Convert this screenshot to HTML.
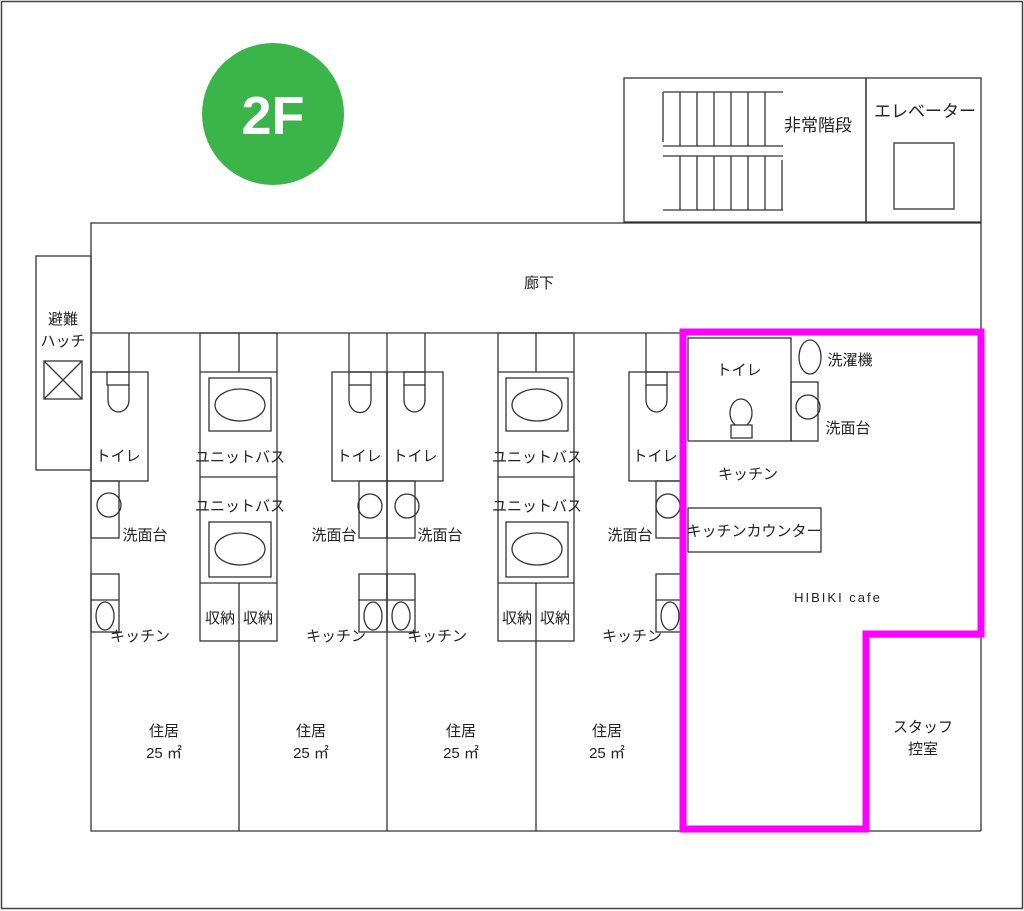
<!DOCTYPE html>
<html><head><meta charset="utf-8"><style>
html,body{margin:0;padding:0;background:#fff}
svg{display:block}
text{font-family:"Liberation Sans","Noto Sans CJK JP",sans-serif;fill:#222;font-size:15px;text-anchor:middle}
</style></head><body>
<svg width="1024" height="911" viewBox="0 0 1024 911" xmlns="http://www.w3.org/2000/svg">
<rect x="1.5" y="1.5" width="1021" height="907" fill="#fff" stroke="#444" stroke-width="1.5"/>
<circle cx="273" cy="114" r="71" fill="#3bb44a"/>
<text x="273" y="134" style="font-size:54px;font-weight:bold;fill:#fff;font-family:'Liberation Sans',sans-serif">2F</text>
<g fill="none" stroke="#333" stroke-width="1.3">
<rect x="624" y="78" width="242" height="144"/>
<rect x="866" y="78" width="115" height="144"/>
<rect x="894" y="143" width="60" height="66"/>
<path d="M663 92H783M663 146H783M663 156H783M663 210H783"/>
<path d="M663 92V142M680 92V146M697 92V146M714 92V146M731 92V146M748 92V146M765 92V146"/>
<path d="M680 156V210M697 156V210M714 156V210M731 156V210M748 156V210M765 156V210M782 160V210"/>
<path d="M91 333V223H981V831M91 333H683"/>
<rect x="36" y="256" width="55" height="214"/>
<rect x="44" y="361" width="38" height="38"/>
<path d="M44 361L82 399M82 361L44 399"/>
<path d="M91 333V831H683M866 831H981M387 333V831M866 637H981"/>
<rect x="91" y="372" width="57" height="109"/>
<path d="M129 333V372"/>
<rect x="107" y="372" width="22" height="13"/>
<path d="M108 385V400A10.5 12 0 0 0 129 400V385"/>
<rect x="91" y="481" width="28" height="57"/>
<circle cx="109" cy="505" r="12"/>
<rect x="91" y="574" width="28" height="58"/>
<path d="M91 600H119"/>
<ellipse cx="105" cy="616" rx="9" ry="14"/>
<rect x="332" y="372" width="55" height="109"/>
<path d="M349 333V372"/>
<rect x="349" y="372" width="22" height="13"/>
<path d="M349 385V400A10.5 12 0 0 0 371 400V385"/>
<rect x="359" y="481" width="28" height="57"/>
<circle cx="370" cy="506" r="12"/>
<rect x="359" y="574" width="28" height="58"/>
<path d="M359 600H387"/>
<ellipse cx="373" cy="616" rx="9" ry="14"/>
<rect x="387" y="372" width="56" height="109"/>
<path d="M425 333V372"/>
<rect x="404" y="372" width="21" height="13"/>
<path d="M404 385V400A10.5 12 0 0 0 425 400V385"/>
<rect x="387" y="481" width="28" height="57"/>
<circle cx="407" cy="506" r="12"/>
<rect x="387" y="574" width="28" height="58"/>
<path d="M387 600H415"/>
<ellipse cx="401" cy="616" rx="9" ry="14"/>
<rect x="629" y="372" width="54" height="109"/>
<path d="M646 333V372"/>
<rect x="646" y="372" width="21" height="13"/>
<path d="M646 385V400A10.5 12 0 0 0 667 400V385"/>
<rect x="656" y="481" width="27" height="57"/>
<circle cx="668" cy="506" r="12"/>
<rect x="656" y="574" width="27" height="58"/>
<path d="M656 600H683"/>
<ellipse cx="670" cy="616" rx="9" ry="14"/>
<rect x="200" y="333" width="77" height="308"/>
<path d="M239 333V372M200 372H277M200 477H277M200 583H277M239 583V831"/>
<rect x="209" y="378" width="62" height="53"/>
<ellipse cx="240" cy="405" rx="25" ry="16"/>
<rect x="209" y="522" width="62" height="55"/>
<ellipse cx="240" cy="549" rx="25" ry="16"/>
<rect x="498" y="333" width="76" height="308"/>
<path d="M536 333V372M498 372H574M498 477H574M498 583H574M536 583V831"/>
<rect x="506" y="378" width="62" height="53"/>
<ellipse cx="537" cy="405" rx="25" ry="16"/>
<rect x="506" y="522" width="62" height="55"/>
<ellipse cx="537" cy="549" rx="25" ry="16"/>
<rect x="688" y="338" width="103" height="103"/>
<ellipse cx="741" cy="413" rx="11" ry="14"/>
<rect x="731" y="425" width="21" height="13" fill="#fff"/>
<ellipse cx="810" cy="357" rx="11" ry="17"/>
<rect x="791" y="382" width="27" height="59"/>
<circle cx="808" cy="407" r="12"/>
<rect x="688" y="508" width="133" height="44"/>
</g>
<polygon points="683,332 981,332 981,634 866,634 866,829 683,829" fill="none" stroke="#ff00ff" stroke-width="7"/>
<text x="818" y="131" style="font-size:17px">非常階段</text>
<text x="925" y="117" style="font-size:17px">エレベーター</text>
<text x="539" y="288">廊下</text>
<text x="63" y="324">避難</text>
<text x="63" y="346">ハッチ</text>
<text x="118" y="461">トイレ</text>
<text x="359" y="461">トイレ</text>
<text x="415" y="461">トイレ</text>
<text x="655" y="461">トイレ</text>
<text x="240" y="462">ユニットバス</text>
<text x="240" y="511">ユニットバス</text>
<text x="537" y="462">ユニットバス</text>
<text x="537" y="511">ユニットバス</text>
<g style="font-size:14px">
<text x="145" y="540">洗面台</text>
<text x="334" y="540">洗面台</text>
<text x="440" y="540">洗面台</text>
<text x="630" y="540">洗面台</text>
<text x="140" y="641">キッチン</text>
<text x="336" y="641">キッチン</text>
<text x="437" y="641">キッチン</text>
<text x="632" y="641">キッチン</text>
<text x="220" y="623">収納</text>
<text x="258" y="623">収納</text>
<text x="517" y="623">収納</text>
<text x="555" y="623">収納</text>
<text x="850" y="365">洗濯機</text>
<text x="848" y="433">洗面台</text>
<text x="748" y="479">キッチン</text>
<text x="754" y="536">キッチンカウンター</text>
<text x="739" y="375">トイレ</text>
<text x="923" y="732">スタッフ</text>
<text x="923" y="754">控室</text>
</g>
<text x="838" y="602" style="font-size:13px;letter-spacing:2px">HIBIKI cafe</text>
<g style="font-size:17px">
<text x="164" y="736">住居</text><text x="164" y="758">25 ㎡</text>
<text x="311" y="736">住居</text><text x="311" y="758">25 ㎡</text>
<text x="461" y="736">住居</text><text x="461" y="758">25 ㎡</text>
<text x="607" y="736">住居</text><text x="607" y="758">25 ㎡</text>
</g>
</svg>
</body></html>
